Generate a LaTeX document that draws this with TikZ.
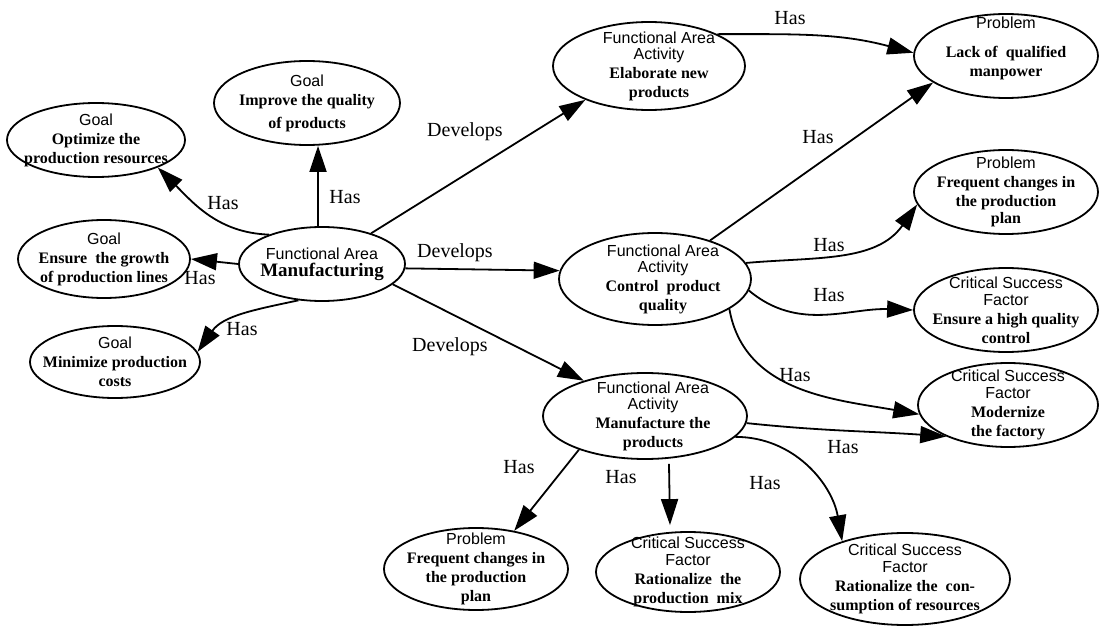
\documentclass[tikz,border=0pt]{standalone}
\usepackage{fontspec}
\setmainfont{Liberation Serif}
\setsansfont{Liberation Sans}
\usetikzlibrary{shapes.geometric,arrows.meta}

\newcommand{\kind}[1]{{\sffamily #1}}
\newcommand{\what}[1]{{\bfseries #1}}

\tikzset{
  concept/.style={draw, ellipse, line width=0.9pt, inner sep=0pt},
  inside/.style={align=center, inner sep=0pt, font=\fontsize{8}{9.5}\selectfont},
  link/.style={-{Triangle[length=13pt,width=8.5pt]}, line width=0.9pt},
  tag/.style={font=\fontsize{10}{12}\selectfont, inner sep=0pt}
}

\begin{document}
\begin{tikzpicture}[x=0.5pt, y=0.5pt] %pixel grid of the original
  \useasboundingbox (0,0) rectangle (1099,-626);

  % Functional area and its goals
  \node[concept, minimum width=83pt, minimum height=37pt,
    label={[inside]center:\kind{Functional Area}\\[-1pt]{\fontsize{9.5}{11}\selectfont\bfseries Manufacturing}}] (mfg) at (322,-264) {};
  \node[concept, minimum width=89pt, minimum height=37pt,
    label={[inside]center:\kind{Goal}\\\what{Optimize the}\\\what{production resources}}] (gopt) at (96,-140) {};
  \node[concept, minimum width=93pt, minimum height=42pt,
    label={[inside]center:\kind{Goal}\\\what{Improve the quality}\\[2pt]\what{of products}}] (gimp) at (307,-103) {};
  \node[concept, minimum width=86pt, minimum height=39pt,
    label={[inside]center:\kind{Goal}\\\what{Ensure~ the growth}\\\what{of production lines}}] (gens) at (104,-259) {};
  \node[concept, minimum width=85pt, minimum height=36pt,
    label={[inside]center:\kind{Goal}\\\what{Minimize production}\\\what{costs}}] (gmin) at (115,-362) {};

  % Activities
  \node[concept, minimum width=96pt, minimum height=44pt,
    label={[inside, xshift=5pt]center:\kind{Functional Area}\\[-1.5pt]\kind{Activity}\\\what{Elaborate new}\\\what{products}}] (aelab) at (649,-66) {};
  \node[concept, minimum width=96pt, minimum height=46pt,
    label={[inside, xshift=4pt]center:\kind{Functional Area}\\[-1.5pt]\kind{Activity}\\\what{Control~ product}\\\what{quality}}] (actrl) at (655,-279) {};
  \node[concept, minimum width=102pt, minimum height=43pt,
    label={[inside, xshift=4pt]center:\kind{Functional Area}\\[-1.5pt]\kind{Activity}\\\what{Manufacture the}\\\what{products}}] (amfr) at (645,-416) {};

  % Problems and critical success factors
  \node[concept, minimum width=92pt, minimum height=42pt,
    label={[inside, yshift=4pt]center:\kind{Problem}\\[5pt]\what{Lack of~ qualified}\\\what{manpower}}] (plack) at (1006,-56) {};
  \node[concept, minimum width=92pt, minimum height=42pt,
    label={[inside]center:\kind{Problem}\\\what{Frequent changes in}\\\what{the production}\\[-1pt]\what{plan}}] (pfreqa) at (1006,-192) {};
  \node[concept, minimum width=92pt, minimum height=42pt,
    label={[inside]center:\kind{Critical Success}\\[-1pt]\kind{Factor}\\\what{Ensure a high quality}\\\what{control}}] (cqual) at (1006,-310) {};
  \node[concept, minimum width=90pt, minimum height=42pt,
    label={[inside]center:\kind{Critical Success}\\[-1pt]\kind{Factor}\\\what{Modernize}\\\what{the factory}}] (cmod) at (1008,-405) {};
  \node[concept, minimum width=92pt, minimum height=41pt,
    label={[inside]center:\kind{Problem}\\\what{Frequent changes in}\\\what{the production}\\\what{plan}}] (pfreqb) at (476,-569) {};
  \node[concept, minimum width=92pt, minimum height=40pt,
    label={[inside]center:\kind{Critical Success}\\[-1pt]\kind{Factor}\\\what{Rationalize~ the}\\\what{production~ mix}}] (cmix) at (688,-572) {};
  \node[concept, minimum width=105pt, minimum height=46pt,
    label={[inside]center:\kind{Critical Success}\\[-1pt]\kind{Factor}\\\what{Rationalize the~ con-}\\\what{sumption of resources}}] (ccons) at (905,-579) {};

  % Goals of the area
  \draw[link] (mfg.151) to[out=178, in=-45] (gopt.-24);
  \node[tag] (hgopt) at (223,-203) {Has};
  \draw[link] (mfg.96) -- (mfg.96 |- gimp.south);
  \node[tag] (hgimp) at (345,-197) {Has};
  \draw[link] (mfg.west) -- (gens.east);
  \node[tag] (hgens) at (200,-278) {Has};
  \draw[link] (mfg.237) to[out=192, in=55] (gmin.7);
  \node[tag] (hgmin) at (242,-329) {Has};

  % Activities of the area
  \draw[link] (mfg.32) -- (aelab.208);
  \node[tag] (daelab) at (465,-132) {Develops};
  \draw[link] (mfg.-3) -- (actrl.175);
  \node[tag] (dactrl) at (455,-253) {Develops};
  \draw[link] (mfg.-16) -- (amfr.150);
  \node[tag] (damfr) at (450,-347) {Develops};

  % Elaborate / Control
  \draw[link] (aelab.25) to[out=0, in=165] (plack.178);
  \node[tag] (hlacka) at (790,-18) {Has};
  \draw[link] (actrl.35) -- (plack.200);
  \node[tag] (hlackb) at (818,-137) {Has};
  \draw[link] (actrl.10) to[out=5, in=235] (pfreqa.188);
  \node[tag] (hfreqa) at (829,-245) {Has};
  \draw[link] (actrl.-7) to[out=-40, in=178] (cqual.west);
  \node[tag] (hqual) at (829,-295) {Has};
  \draw[link] (actrl.-22) to[out=-80, in=170] (cmod.186);
  \node[tag] (hmoda) at (795,-375) {Has};

  % Manufacture
  \draw[link] (amfr.-4) to[out=-6, in=176] (cmod.207);
  \node[tag] (hmodb) at (843,-447) {Has};
  \draw[link] (amfr.207) -- (pfreqb.45);
  \node[tag] (hfreqb) at (519,-467) {Has};
  \draw[link] ([shift={(12pt,-2pt)}]amfr.south) -- ([shift={(-9pt,3pt)}]cmix.north);
  \node[tag] (hmix) at (621,-477) {Has};
  \draw[link] (amfr.-13) to[out=0, in=100] (ccons.149);
  \node[tag] (hcons) at (765,-483) {Has};

\end{tikzpicture}
\end{document}
